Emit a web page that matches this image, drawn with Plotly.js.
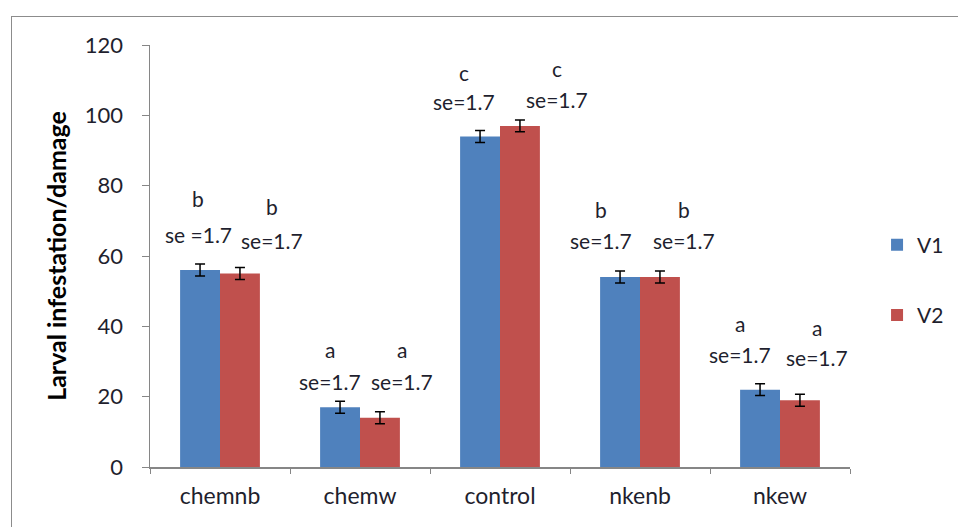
<!DOCTYPE html>
<html>
<head>
<meta charset="utf-8">
<script src="https://cdn.plot.ly/plotly-3.0.1.min.js"></script>
<style>
html,body{margin:0;padding:0;background:#fff;}
#chart{width:958px;height:527px;position:relative;}
#frame{position:absolute;left:11px;top:16px;width:960px;height:540px;border:1.5px solid #8c8c8c;pointer-events:none;}
</style>
</head>
<body>
<div id="chart"></div>
<div id="frame"></div>
<script>
var categories = ["chemnb", "chemw", "control", "nkenb", "nkew"];
var v1 = [56, 17, 94, 54, 22];
var v2 = [55, 14, 97, 54, 19];
var se = [1.7, 1.7, 1.7, 1.7, 1.7];
var lettersV1 = ["b", "a", "c", "b", "a"];
var lettersV2 = ["b", "a", "c", "b", "a"];
var seLabelsV1 = ["se =1.7", "se=1.7", "se=1.7", "se=1.7", "se=1.7"];
var seLabelsV2 = ["se=1.7", "se=1.7", "se=1.7", "se=1.7", "se=1.7"];

// label placement (layout only)
var offV1 = [-0.157, -0.214, -0.257, -0.279, -0.286];
var offV2 = [0.371, 0.300, 0.407, 0.314, 0.264];
var letterYV1 = [76.4, 33.3, 112.3, 73.1, 40.9];
var letterYV2 = [74.2, 33.3, 113.4, 73.1, 39.8];
var seYV1 = [66.0, 24.2, 103.8, 64.3, 32.1];
var seYV2 = [64.5, 24.2, 104.6, 64.3, 31.0];

var font = "Lato, 'Open Sans', sans-serif";
var txtColor = "#1f1f2e";
var errStyle = {type: "data", array: se, visible: true, color: "#000", thickness: 1.5, width: 5};

var traces = [
  {type: "bar", name: "V1", x: categories, y: v1, marker: {color: "#4F81BD"}, error_y: errStyle, legendgroup: "g1"},
  {type: "bar", name: "V2", x: categories, y: v2, marker: {color: "#C0504D"}, error_y: errStyle, legendgroup: "g2"}
];

var annotations = [];
for (var i = 0; i < categories.length; i++) {
  var f = {family: font, size: 21, color: txtColor};
  annotations.push({x: i + offV1[i], y: letterYV1[i], xref: "x", yref: "y", text: lettersV1[i], showarrow: false, font: f});
  annotations.push({x: i + offV2[i], y: letterYV2[i], xref: "x", yref: "y", text: lettersV2[i], showarrow: false, font: f});
  annotations.push({x: i + offV1[i], y: seYV1[i], xref: "x", yref: "y", text: seLabelsV1[i], showarrow: false, font: f});
  annotations.push({x: i + offV2[i], y: seYV2[i], xref: "x", yref: "y", text: seLabelsV2[i], showarrow: false, font: f});
}

var layout = {
  width: 958, height: 527,
  margin: {l: 150, r: 108, t: 45, b: 60, autoexpand: false},
  paper_bgcolor: "#fff", plot_bgcolor: "#fff",
  barmode: "group", bargap: 0.43, bargroupgap: 0,
  showlegend: true,
  legend: {xref: "container", yref: "container", x: 0.9155, xanchor: "left", y: 0.574, yanchor: "top", font: {family: font, size: 21, color: txtColor}, tracegroupgap: 40, traceorder: "grouped", itemwidth: 30},
  xaxis: {
    type: "category", showline: true, linecolor: "#868686", linewidth: 1.5,
    ticks: "outside", tickson: "boundaries", ticklen: 5, tickcolor: "#868686",
    ticklabelstandoff: 8,
    tickfont: {family: font, size: 23, color: txtColor}, showgrid: false, zeroline: false
  },
  yaxis: {
    range: [0, 120], dtick: 20, showline: true, linecolor: "#868686", linewidth: 1.5,
    ticks: "outside", ticklen: 7, tickcolor: "#868686", showgrid: false, zeroline: false,
    ticklabelstandoff: 14,
    tickfont: {family: font, size: 22, color: txtColor},
    title: {text: "Larval infestation/damage", font: {family: font, size: 25, color: "#000", weight: "bold"}, standoff: 11}
  },
  annotations: annotations
};

Plotly.newPlot("chart", traces, layout, {displayModeBar: false, staticPlot: true});
</script>
</body>
</html>
